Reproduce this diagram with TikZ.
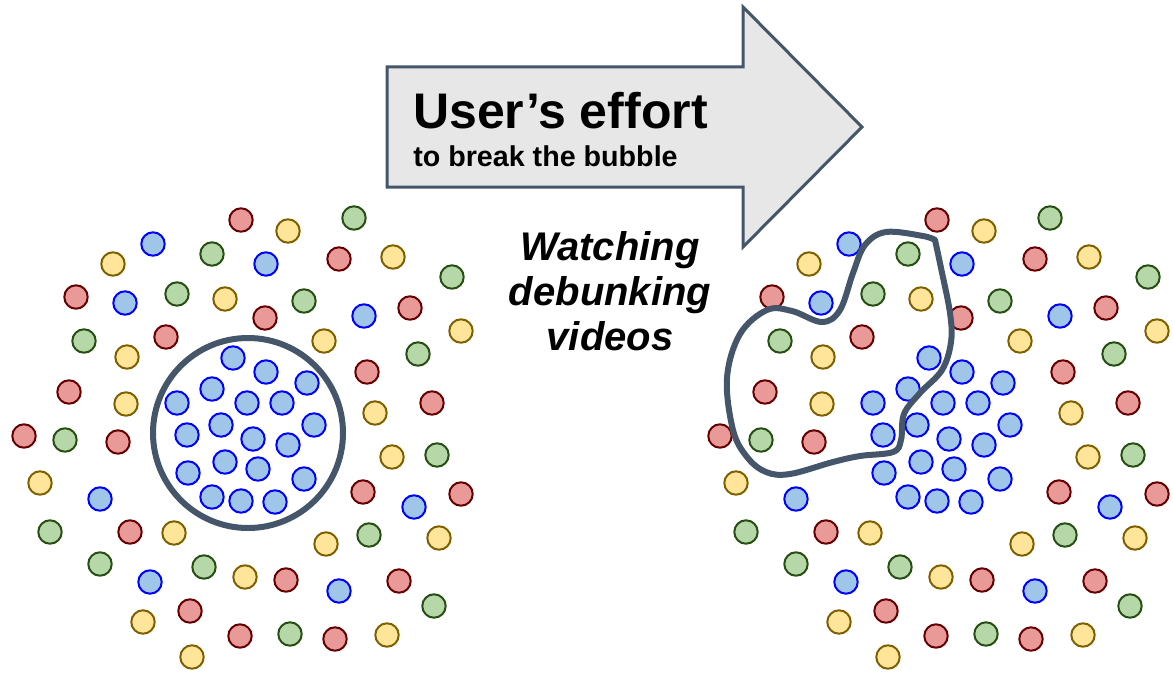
\documentclass[tikz,border=0pt]{standalone}
\usepackage{fontspec}
\setmainfont{Liberation Sans}
\usetikzlibrary{positioning}

\definecolor{dotred}{RGB}{234,153,153}
\definecolor{dotredline}{RGB}{102,0,0}
\definecolor{dotgreen}{RGB}{182,215,168}
\definecolor{dotgreenline}{RGB}{39,78,19}
\definecolor{dotyellow}{RGB}{255,229,153}
\definecolor{dotyellowline}{RGB}{127,96,0}
\definecolor{dotblue}{RGB}{159,197,232}
\definecolor{dotblueline}{RGB}{0,0,255}
\definecolor{slate}{RGB}{69,85,106}
\definecolor{arrowgray}{RGB}{231,231,231}

\tikzset{
  reddot/.style={draw=dotredline,fill=dotred,line width=1.5pt},
  greendot/.style={draw=dotgreenline,fill=dotgreen,line width=1.5pt},
  yellowdot/.style={draw=dotyellowline,fill=dotyellow,line width=1.5pt},
  bluedot/.style={draw=dotblueline,fill=dotblue,line width=1.5pt},
  bubbleline/.style={draw=slate,line width=4.5pt,line cap=round,line join=round},
  titletext/.style={anchor=base west,inner sep=0pt,font=\fontsize{37.5}{40}\selectfont\bfseries},
  subtext/.style={anchor=base west,inner sep=0pt,font=\fontsize{21.5}{24}\selectfont\bfseries},
  actiontext/.style={anchor=base,inner sep=0pt,font=\fontsize{30}{34}\selectfont\bfseries\itshape}
}

% one population of users, drawn at both sides
\newcommand{\userdots}{%
  \foreach \px/\py in {241/220,339/259,76/297,265/318,410/308,166/337,367/372,69/392,432/403,24/436,
                       118/442,363/492,461/494,130/532,286/580,399/581,190/611,240/636,335/639}
    \draw[reddot] (\px,\py) circle [radius=11.7];
  \foreach \px/\py in {212/254,354/218,177/294,304/301,452/277,84/341,418/354,65/440,437/455,50/532,
                       369/535,100/564,204/567,434/606,290/634}
    \draw[greendot] (\px,\py) circle [radius=11.7];
  \foreach \px/\py in {288/231,113/264,393/257,225/299,461/331,127/357,324/341,126/404,375/413,40/483,
                       392/457,174/533,326/544,439/538,245/577,143/622,387/635,192/657}
    \draw[yellowdot] (\px,\py) circle [radius=11.7];
  \foreach \px/\py in {153/244,266/264,125/303,364/316,100/499,414/507,150/582,339/591,
                       233/358,266/372,307/383,212/389,177/403,247/403,282/403,314/425,221/425,187/435,
                       253/439,288/445,225/462,188/473,258/469,304/479,212/497,241/501,275/502}
    \draw[bluedot] (\px,\py) circle [radius=11.7];
}

\begin{document}
\begin{tikzpicture}[x=0.75pt,y=0.75pt,yscale=-1,xscale=1]
\useasboundingbox (0,0) rectangle (1173,674);

%Shape: Right Arrow
\draw [draw=slate,fill=arrowgray,line width=2.25pt,line join=miter]
  (387,67) -- (743,67) -- (743,7) -- (862,127) -- (743,247) -- (743,187) -- (387,187) -- cycle ;

% Text Node
\draw (413,128) node [titletext] (effort) {User’s effort};
% Text Node
\draw (413,166) node [subtext] (breaking) {to break the bubble};

% Text Node
\draw (610,260) node [actiontext] (watching) {Watching};
% Text Node
\draw (610,305) node [actiontext] (debunking) {debunking};
% Text Node
\draw (610,350) node [actiontext] (videos) {videos};

% left: closed bubble
\userdots
\draw [bubbleline] (248,433) circle [radius=95];

% right: broken bubble
\begin{scope}[shift={(696,0)}]
\userdots
\end{scope}
\draw [bubbleline] plot [smooth, tension=0.6] coordinates {
  (935,240) (941,268) (950,313) (951,342) (942,370) (920,393) (904,414) (901,440)
  (893,452) (860,456) (833,462) (790,474) (766,472) (747,457) (733,430) (727,378)
  (740,334) (767,310) (792,311) (822,322) (840,310) (853,273) (865,245) (886,232)
  (923,236) (935,240) } ;

\end{tikzpicture}
\end{document}
